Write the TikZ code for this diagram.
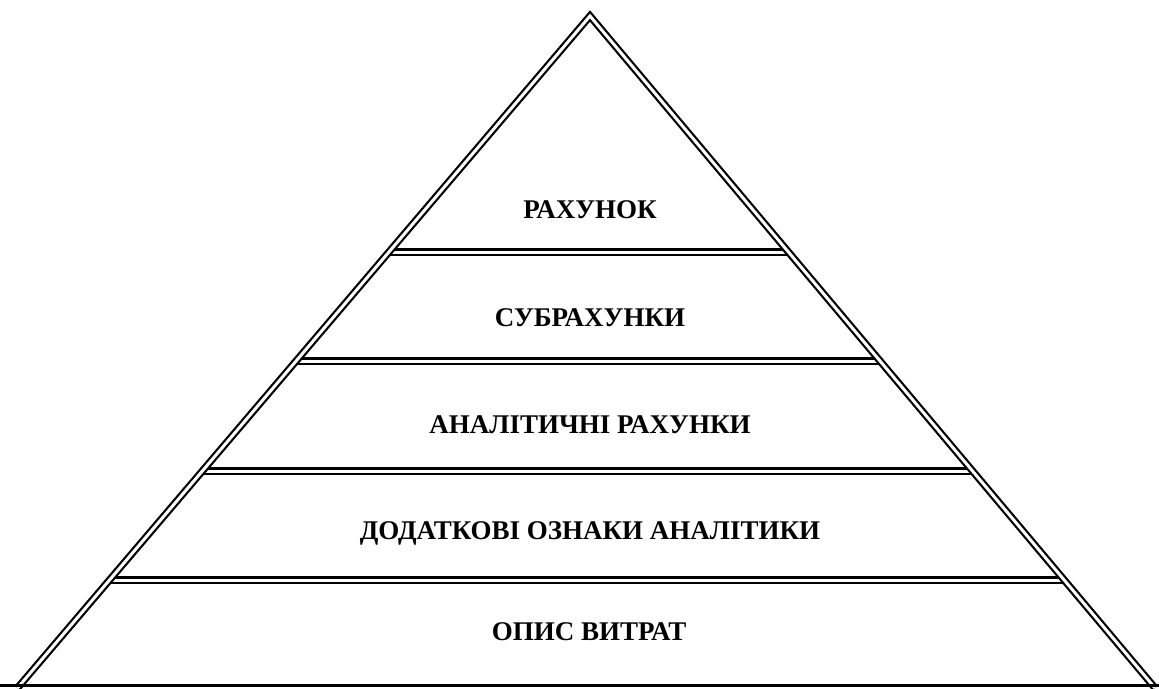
\documentclass[tikz,border=0pt]{standalone}
\usepackage{fontspec}
\setmainfont{Liberation Serif}
\usetikzlibrary{calc}
\tikzset{
  dbl/.style={draw=black, double=white, double distance=3pt, line width=2.2pt},
  lbl/.style={font=\fontsize{27}{32}\selectfont\bfseries, inner sep=0pt, anchor=center}
}
\begin{document}
\begin{tikzpicture}[x=1pt,y=-1pt]
\useasboundingbox (0,0) rectangle (1159,688);
\clip (0,0) rectangle (1159,688);
\fill[white] (0,0) rectangle (1159,688);
\coordinate (A) at (590,16);
\coordinate (L) at (17.5,688);
\coordinate (R) at (1155,688);
% level separators
\foreach \t/\n in {0.3512/a,0.5134/b,0.6771/c,0.8393/d}{
  \coordinate (l\n) at ($(A)!\t!(L)$);
  \coordinate (r\n) at ($(A)!\t!(R)$);
}
\draw[dbl] (la) -- (ra);
\draw[dbl] (lb) -- (rb);
\draw[dbl] (lc) -- (rc);
\draw[dbl] (ld) -- (rd);
% triangle sides
\draw[dbl, line join=miter] (L) -- (A) -- (R);
% base
\coordinate (bl) at (0,685.5);
\coordinate (br) at (1159,685.5);
\draw[line width=3pt] (bl) -- (br);
% labels
\node[lbl] (t1) at (590,210) {РАХУНОК};
\node[lbl] (t2) at (590,318) {СУБРАХУНКИ};
\node[lbl] (t3) at (590,425) {АНАЛІТИЧНІ РАХУНКИ};
\node[lbl] (t4) at (590,533) {ДОДАТКОВІ ОЗНАКИ АНАЛІТИКИ};
\node[lbl] (t5) at (589,632) {ОПИС ВИТРАТ};
\end{tikzpicture}
\end{document}
